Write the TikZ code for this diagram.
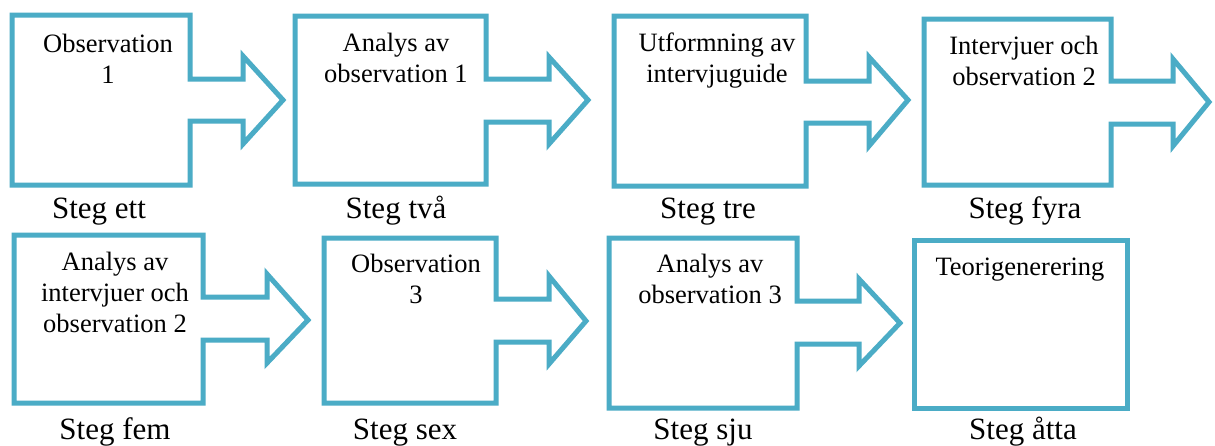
\documentclass[tikz,border=0pt]{standalone}
\usepackage{fontspec}
\setmainfont{Liberation Serif}
\definecolor{boxblue}{HTML}{4BACC6}
\tikzset{
  stepline/.style={draw=boxblue,line width=5pt,line join=miter,miter limit=10},
  boxtext/.style={anchor=base,inner sep=0pt,align=center,font=\fontsize{26.5}{31}\selectfont},
  steplabel/.style={anchor=base,inner sep=0pt,font=\fontsize{31}{36}\selectfont}
}
\begin{document}
\begin{tikzpicture}[x=1pt,y=-1pt]
\useasboundingbox[fill=white] (0,0) rectangle (1215,445);
% row 1
\draw[stepline] (12,15) -- (190,15) -- (190,79) -- (243,79) -- (243,56) -- (283,100) -- (243,144) -- (243,121) -- (190,121) -- (190,185) -- (12,185) -- cycle;
\draw[stepline] (295,16) -- (486,16) -- (486,79) -- (549,79) -- (549,57) -- (588,100) -- (549,144) -- (549,122) -- (486,122) -- (486,184) -- (295,184) -- cycle;
\draw[stepline] (614,16) -- (806,16) -- (806,81) -- (869,81) -- (869,57) -- (908,100) -- (869,146) -- (869,123) -- (806,123) -- (806,186) -- (614,186) -- cycle;
\draw[stepline] (924,19) -- (1111,19) -- (1111,81) -- (1173,81) -- (1173,59) -- (1209,102) -- (1173,146) -- (1173,124) -- (1111,124) -- (1111,185) -- (924,185) -- cycle;
% row 2
\draw[stepline] (14,235) -- (203,235) -- (203,297) -- (267,297) -- (267,274) -- (308,320) -- (267,363) -- (267,340) -- (203,340) -- (203,403) -- (14,403) -- cycle;
\draw[stepline] (324,238) -- (496,238) -- (496,299) -- (549,299) -- (549,276) -- (586,321) -- (549,364) -- (549,342) -- (496,342) -- (496,403) -- (324,403) -- cycle;
\draw[stepline] (609,238) -- (797,238) -- (797,301) -- (859,301) -- (859,279) -- (900,323) -- (859,366) -- (859,344) -- (797,344) -- (797,408) -- (609,408) -- cycle;
\draw[stepline] (914,240) rectangle (1127,408);
% box texts (anchor = baseline of last line)
\node[boxtext] (t1) at (108,83) {Observation\\1};
\node[boxtext] (t2) at (396,82) {Analys av\\observation 1};
\node[boxtext] (t3) at (717,82) {Utformning av\\intervjuguide};
\node[boxtext] (t4) at (1024,85) {Intervjuer och\\observation 2};
\node[boxtext] (t5) at (115,332) {Analys av\\intervjuer och\\observation 2};
\node[boxtext] (t6) at (416,303) {Observation\\3};
\node[boxtext] (t7) at (710,303) {Analys av\\observation 3};
\node[boxtext] (t8) at (1020,275) {Teorigenerering};
% labels
\node[steplabel] (l1) at (99,218) {Steg ett};
\node[steplabel] (l2) at (396,218) {Steg två};
\node[steplabel] (l3) at (708,218) {Steg tre};
\node[steplabel] (l4) at (1025,218) {Steg fyra};
\node[steplabel] (l5) at (115,439) {Steg fem};
\node[steplabel] (l6) at (405,439) {Steg sex};
\node[steplabel] (l7) at (703,439) {Steg sju};
\node[steplabel] (l8) at (1023,439) {Steg åtta};
\end{tikzpicture}
\end{document}
